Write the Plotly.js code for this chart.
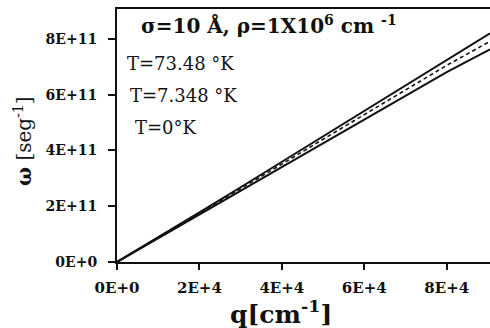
<!DOCTYPE html>
<html>
<head>
<meta charset="utf-8">
<script src="https://cdn.plot.ly/plotly-3.0.1.min.js"></script>
<style>html,body{margin:0;padding:0;background:#fff;}#chart{width:490px;height:328px;}</style>
</head>
<body>
<div id="chart"></div>
<script>
// q values in cm^-1
const q = [0, 1e4, 2e4, 3e4, 4e4, 5e4, 6e4, 7e4, 8e4, 9.05e4];
// omega [seg^-1] for each temperature
const omegaT73 = [0, 0.88e11, 1.78e11, 2.68e11, 3.59e11, 4.50e11, 5.42e11, 6.34e11, 7.26e11, 8.20e11];
const omegaT7 = [0, 0.87e11, 1.75e11, 2.63e11, 3.51e11, 4.40e11, 5.29e11, 6.18e11, 7.05e11, 7.91e11];
const omegaT0 = [0, 0.85e11, 1.70e11, 2.56e11, 3.41e11, 4.27e11, 5.13e11, 5.97e11, 6.81e11, 7.62e11];
const xTickVals = [0, 2e4, 4e4, 6e4, 8e4];
const xTickText = ['0E+0', '2E+4', '4E+4', '6E+4', '8E+4'];
const yTickVals = [0, 2e11, 4e11, 6e11, 8e11];
const yTickText = ['0E+0', '2E+11', '4E+11', '6E+11', '8E+11'];
const labels = ['σ=10 Å, ρ=1X10<sup>6</sup> cm <sup>-1</sup>', 'T=73.48 °K', 'T=7.348 °K', 'T=0°K'];

const W = 490, H = 328, L = 117, R = 0, T = 9, B = 66;
const pw = W - L - R, ph = H - T - B;
const px = x => (x - L) / pw;
const py = y => (H - B - y) / ph;

const FONT = 'DejaVu Serif, Liberation Serif, serif';
const ink = '#111';

const traces = [
  {x: q, y: omegaT73, mode: 'lines', line: {color: ink, width: 2}, name: labels[1]},
  {x: q, y: omegaT7, mode: 'lines', line: {color: ink, width: 1.6, dash: '4px,3px'}, name: labels[2]},
  {x: q, y: omegaT0, mode: 'lines', line: {color: ink, width: 2}, name: labels[3]}
];

const layout = {
  width: W, height: H,
  margin: {l: L, r: R, t: T, b: B, pad: 0},
  paper_bgcolor: '#fff', plot_bgcolor: '#fff',
  showlegend: false,
  font: {family: FONT, color: ink, size: 14},
  xaxis: {
    range: [0, 9.05e4], tickvals: xTickVals, ticktext: xTickText,
    showgrid: false, zeroline: false, showline: true, linecolor: ink, linewidth: 2,
    mirror: true, ticks: 'outside', ticklen: 6, tickwidth: 2, tickcolor: ink,
    ticklabelstandoff: 5,
    tickfont: {family: FONT, size: 15, color: ink, weight: 'bold'}
  },
  yaxis: {
    range: [0, 9.07e11], tickvals: yTickVals, ticktext: yTickText,
    showgrid: false, zeroline: false, showline: true, linecolor: ink, linewidth: 2,
    ticks: 'outside', ticklen: 7, tickwidth: 2, tickcolor: ink,
    ticklabelstandoff: 8,
    tickfont: {family: FONT, size: 14, color: ink, weight: 'bold'}
  },
  annotations: [
    {xref: 'paper', yref: 'paper', x: px(139), y: py(25), xanchor: 'left', yanchor: 'middle',
     text: '<b>' + labels[0] + '</b>', showarrow: false, font: {family: FONT, size: 20, color: ink}},
    {xref: 'paper', yref: 'paper', x: px(125), y: py(63), xanchor: 'left', yanchor: 'middle',
     text: labels[1], showarrow: false, font: {family: FONT, size: 18, color: ink}},
    {xref: 'paper', yref: 'paper', x: px(128), y: py(95), xanchor: 'left', yanchor: 'middle',
     text: labels[2], showarrow: false, font: {family: FONT, size: 18, color: ink}},
    {xref: 'paper', yref: 'paper', x: px(133), y: py(128), xanchor: 'left', yanchor: 'middle',
     text: labels[3], showarrow: false, font: {family: FONT, size: 18, color: ink}},
    {xref: 'paper', yref: 'paper', x: px(281), y: py(312), xanchor: 'center', yanchor: 'middle',
     text: '<b>q[cm<sup>-1</sup>]</b>', showarrow: false, font: {family: FONT, size: 25, color: ink}},
    {xref: 'paper', yref: 'paper', x: px(23), y: py(141), xanchor: 'center', yanchor: 'middle', textangle: -90,
     text: '<b>ω</b> [seg<sup>-1</sup>]', showarrow: false, font: {family: FONT, size: 20, color: ink}}
  ]
};

Plotly.newPlot('chart', traces, layout, {displayModeBar: false, staticPlot: true});
</script>
</body>
</html>
